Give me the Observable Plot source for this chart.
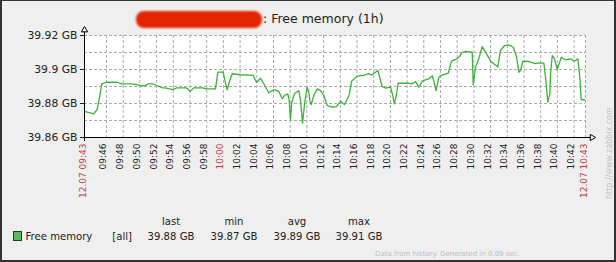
<!DOCTYPE html>
<html><head><meta charset="utf-8">
<script src="https://cdn.jsdelivr.net/npm/d3@7"></script>
<script src="https://cdn.jsdelivr.net/npm/@observablehq/plot@0.6"></script>
<style>
html,body{margin:0;padding:0;background:#efefef;}
#wrap{position:relative;width:616px;height:262px;overflow:hidden;background:#efefef;font-family:"DejaVu Sans",sans-serif;color:#222;}
#chart svg{position:absolute;left:0;top:0;}
.t{position:absolute;white-space:nowrap;line-height:1;}
#border{position:absolute;left:0;top:0;width:616px;height:262px;box-sizing:border-box;border:2px solid #333;border-top-width:1px;pointer-events:none;}
</style></head><body>
<div id="wrap">
  <div id="chart"></div>
  <div class="t" style="left:136px;top:11px;width:126px;height:17px;border-radius:8px;background:#e32400;filter:blur(1px);"></div>
  <span class="t" id="title" style="left:263px;top:13.4px;font-size:12.5px;"></span>
  <div class="t" style="left:13px;top:231px;width:9px;height:10px;box-sizing:border-box;border:1px solid #333;background:#5cb85c;"></div>
  <div id="legend"></div>
  <span class="t" id="footer" style="left:375px;top:251px;font-size:7px;color:#bdbdbd;"></span>
  <span class="t" id="wm" style="left:606px;top:199px;font-size:8px;color:#c4c4c4;transform-origin:left top;transform:rotate(-90deg);"></span>
  <div id="border"></div>
</div>
<script>
// ---- data ----
const titleText = ": Free memory (1h)";
const dateStr = "2023-07-12";
const startTime = "09:43:22";
const endTime = "10:43:22";
const times = [
"09:43:22","09:44:29","09:44:53","09:45:10","09:45:26","09:45:58","09:47:14","09:47:50","09:49:09","09:49:57","09:50:33","09:51:02","09:51:33","09:52:33","09:53:09","09:53:56","09:54:25","09:55:33","09:56:02","09:56:27","09:57:32","09:57:56","09:59:03",
"09:59:20","09:59:59","10:00:08","10:00:27","10:00:46","10:01:03","10:02:03","10:03:34","10:03:58","10:04:27","10:04:50","10:05:26","10:06:02","10:06:38","10:07:03","10:07:19","10:07:43","10:07:53","10:08:02","10:08:12","10:08:31","10:09:02","10:09:14","10:09:29","10:09:43","10:10:02","10:10:14","10:10:21","10:10:31","10:10:50","10:11:14","10:11:38","10:12:02","10:12:26","10:13:02","10:13:33","10:14:02",
"10:14:30","10:14:57","10:15:06","10:15:21","10:16:02","10:16:49","10:17:18","10:17:49","10:18:30","10:19:01","10:19:25","10:20:01","10:20:17","10:20:28","10:20:42","10:20:56","10:22:12","10:22:37","10:23:01","10:23:24","10:23:53","10:24:36","10:25:01","10:25:17","10:25:29","10:25:48","10:26:17","10:26:56","10:27:19","10:27:48","10:28:17","10:28:31","10:29:00",
"10:29:48","10:29:55","10:30:12","10:30:35","10:31:00","10:31:24","10:32:00","10:32:52","10:33:11","10:33:40","10:34:11","10:34:43","10:35:06","10:35:23","10:35:35","10:35:52","10:36:35","10:37:23","10:37:52","10:38:23","10:38:37","10:38:51","10:39:06","10:39:11","10:39:23","10:39:39","10:39:59","10:40:28","10:40:58","10:41:34","10:42:03","10:42:27","10:42:41","10:42:51","10:43:15"
];
const freeMemoryGB = [
39.8753,39.8739,39.8766,39.8837,39.8916,39.8925,39.8925,39.8916,39.8916,39.8906,39.8904,39.8916,39.8916,39.8894,39.8890,39.8882,39.8892,39.8892,39.8872,39.8892,39.8892,39.8886,39.8886,
39.8984,39.8984,39.8945,39.8881,39.8935,39.8975,39.8969,39.8965,39.8925,39.8949,39.8916,39.8863,39.8881,39.8872,39.8828,39.8847,39.8857,39.8818,39.8704,39.8808,39.8857,39.8876,39.8818,39.8684,39.8798,39.8896,39.8866,39.8818,39.8794,39.8847,39.8886,39.8876,39.8847,39.8788,39.8778,39.8782,39.8814,
39.8794,39.8837,39.8857,39.8931,39.8961,39.8965,39.8975,39.8969,39.8994,39.8900,39.8890,39.8896,39.8847,39.8798,39.8847,39.8919,39.8919,39.8916,39.8929,39.8896,39.8935,39.8945,39.8963,39.8916,39.8876,39.8955,39.8969,39.8978,39.9049,39.9059,39.9076,39.9098,39.9106,
39.9102,39.8910,39.9014,39.9063,39.9135,39.9102,39.9049,39.9014,39.9112,39.9141,39.9145,39.9131,39.9076,39.8984,39.8994,39.9049,39.9047,39.9034,39.9039,39.9037,39.8935,39.8808,39.8857,39.8975,39.9082,39.9063,39.9000,39.9072,39.9057,39.9063,39.9049,39.9063,39.8955,39.8822,39.8822
];
const yDomain = [39.86, 39.92];
const yTicks = [39.86, 39.88, 39.9, 39.92];
const yGrid = [39.87, 39.88, 39.89, 39.9, 39.91, 39.92];
const xTickLabels = ["09:46","09:48","09:50","09:52","09:54","09:56","09:58","10:00","10:02","10:04","10:06","10:08","10:10","10:12","10:14","10:16","10:18","10:20","10:22","10:24","10:26","10:28","10:30","10:32","10:34","10:36","10:38","10:40","10:42"];
const redTickLabels = ["10:00"];
const edgeLabels = ["12.07 09:43", "12.07 10:43"];
const seriesName = "Free memory";
const seriesFunc = "[all]";
const statNames = ["last", "min", "avg", "max"];
const statValues = ["39.88 GB", "39.87 GB", "39.89 GB", "39.91 GB"];
const footerText = "Data from history. Generated in 0.09 sec.";
const watermarkText = "http://www.zabbix.com";

// ---- build ----
const parse = d3.utcParse("%Y-%m-%d %H:%M:%S");
const data = times.map((t, i) => ({time: parse(`${dateStr} ${t}`), value: freeMemoryGB[i]}));
const t0 = parse(`${dateStr} ${startTime}`);
const t1 = parse(`${dateStr} ${endTime}`);
const ticks = xTickLabels.map(l => ({label: l, time: parse(`${dateStr} ${l}:00`), red: redTickLabels.includes(l)}));
const gridTimes = ticks.map(d => d.time).concat([t1]);
const edges = [{label: edgeLabels[0], time: t0}, {label: edgeLabels[1], time: t1}];
const tArrow = d3.utcSecond.offset(t1, 47);
const yAxisTop = 39.9232, yAxisBottom = 39.8576;
const red = "#bb3c3c";

const chart = Plot.plot({
  width: 616, height: 262,
  marginLeft: 84, marginRight: 31, marginTop: 35, marginBottom: 125,
  style: {background: "transparent", fontFamily: "DejaVu Sans", fontSize: "10.8px", color: "#222", overflow: "visible"},
  x: {type: "utc", domain: [t0, t1], axis: null},
  y: {domain: yDomain, ticks: yTicks, tickFormat: d => `${d} GB`, tickSize: 4, tickPadding: 3, label: null},
  marks: [
    Plot.frame({fill: "white", stroke: "none"}),
    Plot.ruleY(yGrid, {y: d => d, stroke: "#aaaaaa", strokeDasharray: "3,2"}),
    Plot.ruleX(gridTimes, {x: d => d, stroke: "#aaaaaa", strokeDasharray: "3,2"}),
    Plot.line(data, {x: "time", y: "value", stroke: "#3bb33b", strokeWidth: 1.3}),
    Plot.ruleX([t0], {x: d => d, y1: () => yAxisBottom, y2: () => yAxisTop, stroke: "#000"}),
    Plot.ruleY([yDomain[0]], {y: d => d, x1: () => t0, x2: () => tArrow, stroke: "#000"}),
    Plot.dot([0], {x: () => t0, y: () => yAxisTop, symbol: "triangle", r: 2.3, fill: "white", stroke: "#000", strokeWidth: 1}),
    Plot.dot([0], {x: () => tArrow, y: () => yDomain[0], symbol: "triangle", r: 2.3, fill: "white", stroke: "#000", strokeWidth: 1, rotate: 90}),
    Plot.text(ticks.filter(d => !d.red), {x: "time", text: "label", frameAnchor: "bottom", dy: 6, rotate: -90, textAnchor: "end", fontSize: 9, fill: "#222"}),
    Plot.text(ticks.filter(d => d.red), {x: "time", text: "label", frameAnchor: "bottom", dy: 6, rotate: -90, textAnchor: "end", fontSize: 9, fill: red}),
    Plot.text(edges, {x: "time", text: "label", dx: 1, frameAnchor: "bottom", dy: 6, rotate: -90, textAnchor: "end", fontSize: 9, fill: red})
  ]
});
document.getElementById("chart").appendChild(chart);

document.getElementById("title").textContent = titleText;
document.getElementById("footer").textContent = footerText;
document.getElementById("wm").textContent = watermarkText;

const legend = document.getElementById("legend");
function addText(txt, left, top, size, width, align) {
  const s = document.createElement("span");
  s.className = "t";
  s.textContent = txt;
  s.style.left = left + "px";
  s.style.top = top + "px";
  s.style.fontSize = size + "px";
  if (width) { s.style.width = width + "px"; s.style.textAlign = align || "center"; }
  legend.appendChild(s);
}
addText(seriesName, 25.5, 231.5, 10.1);
addText(seriesFunc, 112.3, 231.5, 10.1);
const centers = [171, 234, 297, 359];
statNames.forEach((n, i) => addText(n, centers[i] - 40, 216.5, 10.1, 80, "center"));
statValues.forEach((v, i) => addText(v, centers[i] - 40, 231.5, 10.1, 80, "center"));
</script>
</body></html>
